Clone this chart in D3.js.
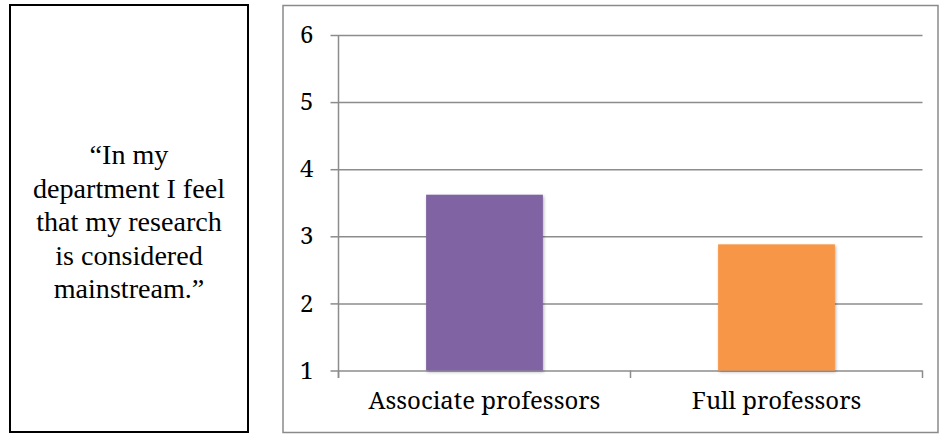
<!DOCTYPE html>
<html>
<head>
<meta charset="utf-8">
<script src="https://cdn.jsdelivr.net/npm/d3@7"></script>
<style>
  html, body { margin: 0; padding: 0; background: #fff; }
  svg { display: block; }
</style>
</head>
<body>
<svg id="chart" width="941" height="437"></svg>
<script>
// Survey item and mean ratings per rank
const quoteLines = ["\u201CIn my", "department I feel", "that my research", "is considered", "mainstream.\u201D"];
const categories = ["Associate professors", "Full professors"];
const values = [3.62, 2.88];
const colors = ["#8064A2", "#F79646"];
const yTicks = [1, 2, 3, 4, 5, 6];

const quoteFont = '"Liberation Serif", serif';
const axisFont = '"Noto Serif", "DejaVu Serif", serif';

const svg = d3.select("#chart");

// Drop shadow for the bars
const defs = svg.append("defs");
const f = defs.append("filter").attr("id", "shadow")
  .attr("x", "-10%").attr("y", "-10%").attr("width", "130%").attr("height", "130%");
f.append("feDropShadow").attr("dx", 1).attr("dy", 1.5).attr("stdDeviation", 1.5)
  .attr("flood-color", "#000").attr("flood-opacity", 0.3);

// Fit a font size so that the given text spans the target width
function fitSize(family, text, target) {
  const t = svg.append("text").style("font-family", family).style("font-size", "20px").text(text);
  const w = t.node().getComputedTextLength();
  t.remove();
  return 20 * target / w;
}

// Quote box on the left
const qBox = { x: 10, y: 5, w: 238, h: 427 };
svg.append("rect")
  .attr("x", qBox.x).attr("y", qBox.y).attr("width", qBox.w).attr("height", qBox.h)
  .attr("fill", "#fff").attr("stroke", "#000").attr("stroke-width", 2);

const quoteSize = fitSize(quoteFont, "department I feel", 192);
const lineGap = 33.5;
const firstBaseline = 164;
svg.append("g").selectAll("text")
  .data(quoteLines)
  .join("text")
  .attr("x", qBox.x + qBox.w / 2)
  .attr("y", (d, i) => firstBaseline + i * lineGap)
  .attr("text-anchor", "middle")
  .attr("fill", "#000")
  .style("font-family", quoteFont)
  .style("font-size", quoteSize + "px")
  .text(d => d);

// Chart frame
const frame = { x: 283, y: 5.5, w: 655, h: 427 };
svg.append("rect")
  .attr("x", frame.x).attr("y", frame.y).attr("width", frame.w).attr("height", frame.h)
  .attr("fill", "#fff").attr("stroke", "#8a8a8a").attr("stroke-width", 1.5);

const plot = { left: 338.5, right: 922.5, top: 35, bottom: 370.5 };

const y = d3.scaleLinear().domain([1, 6]).range([plot.bottom, plot.top]);
const x = d3.scaleBand().domain(categories)
  .range([plot.left, plot.right])
  .paddingInner(0.6).paddingOuter(0.3);
const xEdges = d3.scaleBand().domain(categories).range([plot.left, plot.right]);

const grid = "#8c8c8c";
const axisSize = fitSize(axisFont, categories[0], 232);

// Horizontal gridlines with left ticks
const yAxis = d3.axisLeft(y).tickValues(yTicks).tickSize(8).tickPadding(17).tickFormat(d3.format("d"));
const gy = svg.append("g").attr("transform", `translate(${plot.left},0)`).call(yAxis);
gy.select(".domain").remove();
gy.selectAll(".tick line").attr("stroke", grid).attr("stroke-width", 1.5);
gy.selectAll(".tick").append("line")
  .attr("x1", 0).attr("x2", plot.right - plot.left)
  .attr("stroke", grid).attr("stroke-width", 1.5);
gy.selectAll(".tick text")
  .attr("fill", "#000")
  .style("font-family", axisFont)
  .style("font-size", axisSize + "px");

// Vertical axis line
svg.append("line")
  .attr("x1", plot.left).attr("x2", plot.left)
  .attr("y1", plot.top).attr("y2", plot.bottom + 7.5)
  .attr("stroke", grid).attr("stroke-width", 1.5);

// Bars
svg.append("g").selectAll("rect")
  .data(categories)
  .join("rect")
  .attr("x", d => x(d))
  .attr("width", x.bandwidth())
  .attr("y", (d, i) => y(values[i]))
  .attr("height", (d, i) => y(1) - y(values[i]))
  .attr("fill", (d, i) => colors[i])
  .attr("filter", "url(#shadow)");

// Category boundary ticks on the baseline
const edges = [plot.left, ...categories.map(c => xEdges(c) + xEdges.bandwidth())];
svg.append("g").selectAll("line")
  .data(edges)
  .join("line")
  .attr("x1", d => d).attr("x2", d => d)
  .attr("y1", plot.bottom).attr("y2", plot.bottom + 7.5)
  .attr("stroke", grid).attr("stroke-width", 1.5);

// Category labels
svg.append("g").selectAll("text")
  .data(categories)
  .join("text")
  .attr("x", d => xEdges(d) + xEdges.bandwidth() / 2)
  .attr("y", 409)
  .attr("text-anchor", "middle")
  .attr("fill", "#000")
  .style("font-family", axisFont)
  .style("font-size", axisSize + "px")
  .text(d => d);
</script>
</body>
</html>
